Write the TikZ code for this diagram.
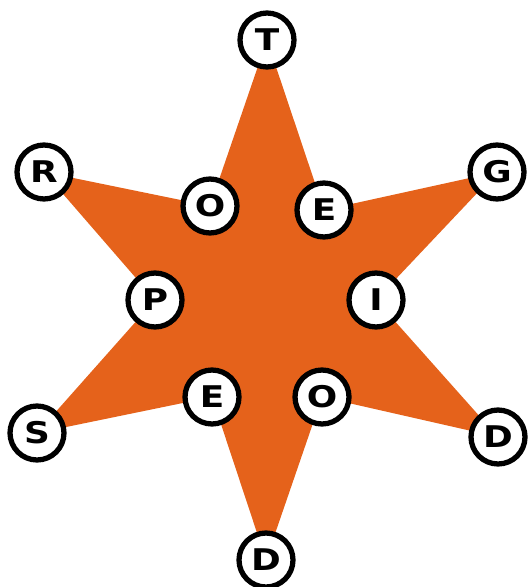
\documentclass[tikz,border=0pt]{standalone}
\usepackage{fontspec}
\setmainfont{DejaVu Sans}
\newfontfamily\widefont[FakeStretch=1.2]{DejaVu Sans}
\usepackage{tikz}
\usetikzlibrary{positioning,calc}
\definecolor{starorange}{HTML}{E5621B}

\begin{document}
\begin{tikzpicture}[
  x=0.02cm, y=-0.02cm,
  starFill/.style ={fill=starorange, draw=none},
  letterDisc/.style={circle, draw=black, fill=white, line width=3pt,
    minimum size=1.08cm, inner sep=0pt,
    font=\widefont\fontsize{17}{17}\selectfont\bfseries},
]
\useasboundingbox (0,0) rectangle (527,587);
% points of the star (outer tips and inner corners), in pixels
\foreach \nm/\px/\py in {%
  t/267/40, ea/324/210, g/497/172, i/376/300,
  dr/498/437, ob/322/397, db/266/560, eb/212/397,
  s/37/433, p/155/300, r/44/172, oa/210/206%
} {
  \coordinate (c\nm) at (\px,\py);
}
\fill[starFill] (ct) -- (cea) -- (cg) -- (ci) -- (cdr) -- (cob)
  -- (cdb) -- (ceb) -- (cs) -- (cp) -- (cr) -- (coa) -- cycle;
% letter discs on top
\foreach \nm/\txt in {%
  t/T, ea/E, g/G, i/I, dr/D, ob/O, db/D, eb/E, s/S, p/P, r/R, oa/O%
} {
  \node[letterDisc] (\nm) at (c\nm) {\txt};
}
\end{tikzpicture}
\end{document}
